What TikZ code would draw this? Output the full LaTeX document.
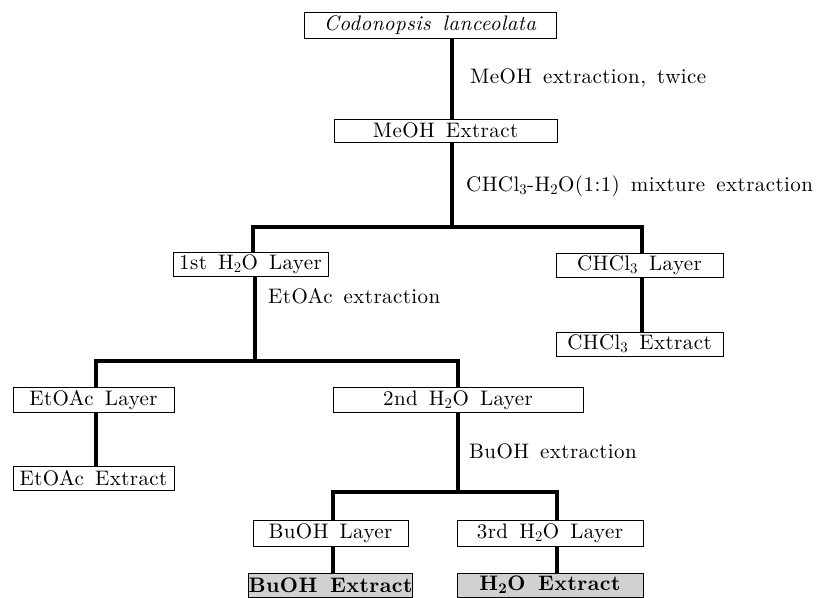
\documentclass[tikz,border=0pt]{standalone}
\usepackage{fontspec}
\setmainfont{lmroman10-regular.otf}[BoldFont=lmroman10-bold.otf, ItalicFont=lmroman10-italic.otf, LetterSpace=2, WordSpace=1.5]
\begin{document}
\begin{tikzpicture}[x=1pt,y=-1pt,
  every node/.style={font=\fontsize{21}{24}\selectfont},
  box/.style={draw, line width=1pt, inner sep=0pt, minimum height=24pt},
  shadedbox/.style={box, fill=black!18, font=\fontsize{21}{24}\selectfont\bfseries},
  link/.style={line width=3.2pt},
  lbl/.style={anchor=west, inner sep=0pt}]
\useasboundingbox (0,0) rectangle (832,597);
% boxes
\node[box, minimum width=252pt, minimum height=26pt] (cod) at (430,25) {\itshape Codonopsis lanceolata};
\node[box, minimum width=223pt, minimum height=23pt] (meoh) at (445.5,130.5) {MeOH Extract};
\node[box, minimum width=155pt] (l1) at (250.5,264) {1st H\textsubscript{2}O Layer};
\node[box, minimum width=167pt] (chl) at (639.5,265) {CHCl\textsubscript{3} Layer};
\node[box, minimum width=167pt] (che) at (639.5,344) {CHCl\textsubscript{3} Extract};
\node[box, minimum width=161pt, minimum height=25pt] (etl) at (93.5,400) {EtOAc Layer};
\node[box, minimum width=161pt] (ete) at (93.5,478) {EtOAc Extract};
\node[box, minimum width=250pt, minimum height=25pt] (l2) at (458,400) {2nd H\textsubscript{2}O Layer};
\node[box, minimum width=155pt, minimum height=26pt] (bul) at (330.5,533) {BuOH Layer};
\node[box, minimum width=186pt, minimum height=26pt] (l3) at (550,533) {3rd H\textsubscript{2}O Layer};
\node[shadedbox, minimum width=155pt] (bue) at (330.5,585) {BuOH Extract};
\node[shadedbox, minimum width=186pt] (h2oe) at (550,585) {H\textsubscript{2}O Extract};
% junctions
\coordinate (j1) at (452,227);
\coordinate (j1l) at (253,227);
\coordinate (j1r) at (642,227);
\coordinate (j2) at (255,361);
\coordinate (j2l) at (96,361);
\coordinate (j2r) at (458,361);
\coordinate (j3) at (458,492);
\coordinate (j3l) at (333,492);
\coordinate (j3r) at (557,492);
% connectors
\draw[link] (cod.south -| j1) -- (meoh.north -| j1);
\draw[link] (meoh.south -| j1) -- (j1);
\draw[link] (l1.north -| j1l) -- (j1l) -- (j1r) -- (chl.north -| j1r);
\draw[link] (chl.south -| j1r) -- (che.north -| j1r);
\draw[link] (l1.south -| j2) -- (j2);
\draw[link] (etl.north -| j2l) -- (j2l) -- (j2r) -- (l2.north -| j2r);
\draw[link] (etl.south -| j2l) -- (ete.north -| j2l);
\draw[link] (l2.south -| j3) -- (j3);
\draw[link] (bul.north -| j3l) -- (j3l) -- (j3r) -- (l3.north -| j3r);
\draw[link] (bul.south -| j3l) -- (bue.north -| j3l);
\draw[link] (l3.south -| j3r) -- (h2oe.north -| j3r);
% labels
\node[lbl] (t1) at (470,78) {MeOH extraction, twice};
\node[lbl] (t2) at (466,186) {CHCl\textsubscript{3}-H\textsubscript{2}O(1:1) mixture extraction};
\node[lbl] (t3) at (268,296) {EtOAc extraction};
\node[lbl] (t4) at (469,451) {BuOH extraction};
\end{tikzpicture}
\end{document}
